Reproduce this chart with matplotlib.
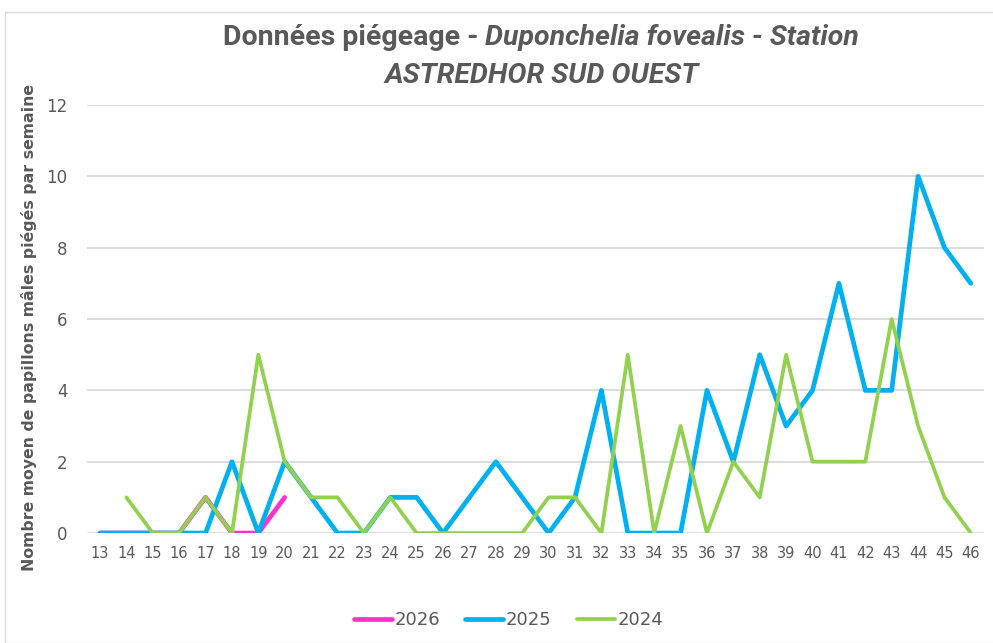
import matplotlib.pyplot as plt
from matplotlib.patches import Rectangle

weeks = list(range(13, 47))

weeks_2026 = list(range(13, 21))
vals_2026 = [0, 0, 0, 0, 1, 0, 0, 1]

vals_2025 = [0, 0, 0, 0, 0, 2, 0, 2, 1, 0, 0, 1, 1, 0, 1, 2, 1, 0, 1, 4,
             0, 0, 0, 4, 2, 5, 3, 4, 7, 4, 4, 10, 8, 7]

weeks_2024 = list(range(14, 47))
vals_2024 = [1, 0, 0, 1, 0, 5, 2, 1, 1, 0, 1, 0, 0, 0, 0, 0, 1, 1, 0, 5,
             0, 3, 0, 2, 1, 5, 2, 2, 2, 6, 3, 1, 0]

y_ticks = [0, 2, 4, 6, 8, 10, 12]

grey = "#595959"
title_font = "Roboto"

fig = plt.figure(figsize=(9.93, 6.43), dpi=100)
ax = fig.add_axes([0.0874, 0.171, 0.9036, 0.6657])

# chart border
fig.patches.append(Rectangle((5 / 993, 0), 1.0, 1 - 12 / 643, transform=fig.transFigure,
                             fill=False, edgecolor="#D9D9D9", linewidth=1.0))

ax.plot(weeks_2026, vals_2026, color="#FF33CC", linewidth=3.4, label="2026",
        solid_capstyle="round", zorder=3)
ax.plot(weeks, vals_2025, color="#00B0F0", linewidth=3.4, label="2025",
        solid_capstyle="round", zorder=4)
ax.plot(weeks_2024, vals_2024, color="#92D050", linewidth=2.7, label="2024",
        solid_capstyle="round", zorder=5)

ax.set_xlim(12.5, 46.5)
ax.set_ylim(0, 12)
ax.set_xticks(weeks)
ax.set_xticklabels([str(w) for w in weeks], fontsize=10.5, color=grey)
ax.set_yticks(y_ticks)
ax.set_yticklabels([str(v) for v in y_ticks], fontsize=12, color=grey)
ax.tick_params(length=0)
ax.tick_params(axis="x", pad=9)
ax.tick_params(axis="y", pad=14)
ax.grid(axis="y", color="#D9D9D9", linewidth=1.3)
ax.set_axisbelow(True)
for s in ax.spines.values():
    s.set_visible(False)

ax.set_ylabel("Nombre moyen de papillons mâles piégés par semaine", fontsize=11.3,
              fontweight="semibold", color=grey)
ax.yaxis.set_label_coords(-0.056, 0.481)

# title: first line mixes upright and italic, centre it as a whole
t1 = fig.text(0.5, 0.941, "Données piégeage - ", fontsize=20.5, fontweight="bold", color=grey,
              ha="left", va="center", family=title_font)
t2 = fig.text(0.5, 0.941, "Duponchelia fovealis - Station", fontsize=20.5, fontweight="bold",
              style="italic", color=grey, ha="left", va="center", family=title_font)
r = fig.canvas.get_renderer()
w1 = t1.get_window_extent(r).width / fig.bbox.width
w2 = t2.get_window_extent(r).width / fig.bbox.width
x0 = 0.545 - (w1 + w2) / 2
t1.set_x(x0)
t2.set_x(x0 + w1)
fig.text(0.545, 0.883, "ASTREDHOR SUD OUEST", fontsize=20.5, fontweight="bold",
         style="italic", color=grey, ha="center", va="center", family=title_font)

leg = fig.legend(loc="center", bbox_to_anchor=(0.512, 0.035), ncol=3, frameon=False,
                 fontsize=13, handlelength=2.1, handletextpad=0.15, columnspacing=1.4)
for t in leg.get_texts():
    t.set_color(grey)

fig.savefig("out.png", dpi=100)
